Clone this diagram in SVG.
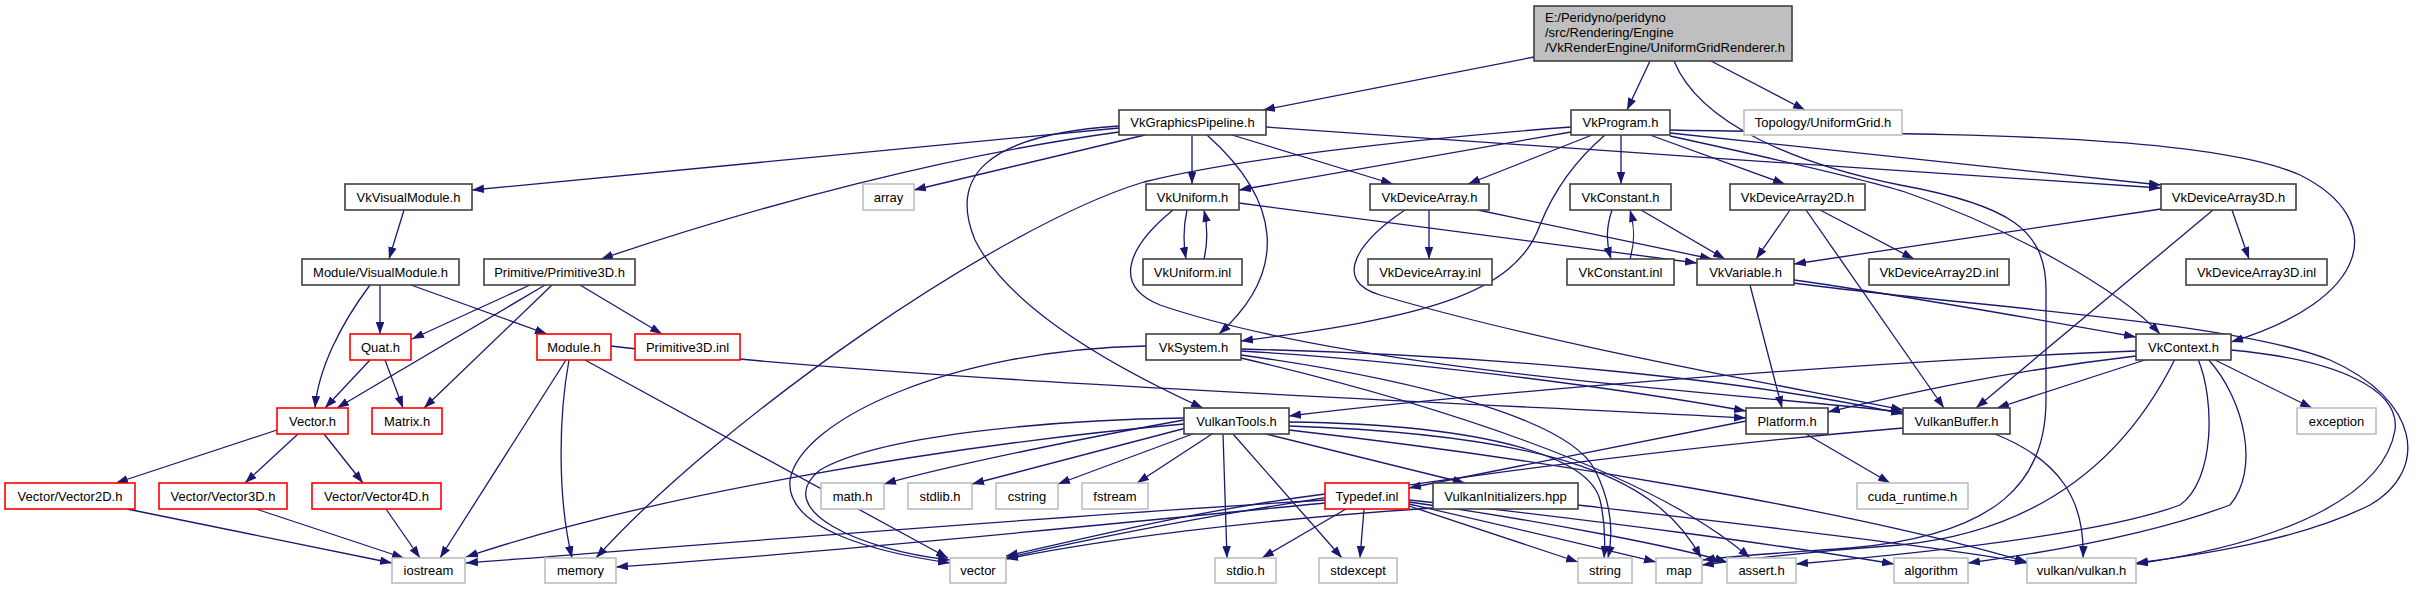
<svg xmlns="http://www.w3.org/2000/svg" width="2428" height="589" viewBox="0 0 2428 589">
<defs>
<marker id="ah" markerUnits="userSpaceOnUse" markerWidth="13" markerHeight="9" refX="12" refY="4.25" orient="auto"><path d="M0,0 L12,4.25 L0,8.5 z" fill="#191970"/></marker>
<style>
.n rect{fill:#fff;stroke:#404040;stroke-width:1.6}
.r rect{fill:#fff;stroke:#ff0000;stroke-width:1.6}
.g rect{fill:#fff;stroke:#bfbfbf;stroke-width:1.6}
.m rect{fill:#bfbfbf;stroke:#404040;stroke-width:1.6}
text{font-family:"Liberation Sans",Arial,sans-serif;font-size:13px;fill:#000;text-anchor:middle}
.m text{text-anchor:start}
#edges path{fill:none;stroke:#191970;stroke-width:1.3;marker-end:url(#ah)}
</style>
</defs>
<rect width="2428" height="589" fill="#fff"/>
<g id="edges">
<path d="M1534,57 L1263,110"/>
<path d="M1650,61 L1627,110"/>
<path d="M1711,61 L1805,110"/>
<path d="M1674,61 C1700,125 1800,165 1900,185 C2010,205 2046,230 2046,290 L2046,400 C2046,480 2000,535 1850,548 C1780,553 1730,556 1703,560"/>
<path d="M1119,128 L472,190"/>
<path d="M1119,132 C950,155 760,205 601,259"/>
<path d="M1145,135 L914,190"/>
<path d="M1119,126 C980,135 950,180 975,240 C1010,310 1120,370 1203,408"/>
<path d="M1192,135 L1192,184"/>
<path d="M1207,135 C1280,200 1290,270 1219,334"/>
<path d="M1232,135 L1393,184"/>
<path d="M1266,127 C1500,145 1900,170 2161,188"/>
<path d="M1571,132 L1239,190"/>
<path d="M1571,127 C1400,140 1230,160 1144,182 C1000,225 720,420 596,558"/>
<path d="M1592,135 L1468,184"/>
<path d="M1605,135 C1570,165 1550,200 1540,225 C1515,295 1420,318 1241,341"/>
<path d="M1621,135 L1621,184"/>
<path d="M1650,135 L1785,184"/>
<path d="M1670,133 L2161,185"/>
<path d="M1670,136 C1780,160 1860,178 1905,192 C2010,228 2120,290 2160,334"/>
<path d="M1670,130 C1900,135 2200,130 2300,175 C2390,220 2370,300 2231,342"/>
<path d="M1612,210 C1606,228 1606,242 1611,259"/>
<path d="M1630,259 C1635,242 1635,228 1630,210"/>
<path d="M1641,210 L1725,259"/>
<path d="M1790,210 L1756,259"/>
<path d="M1820,210 L1914,259"/>
<path d="M1806,210 L1944,408"/>
<path d="M2161,209 L1794,264"/>
<path d="M2232,210 L2249,259"/>
<path d="M2213,210 L1976,408"/>
<path d="M1187,210 C1183,228 1183,242 1186,259"/>
<path d="M1204,259 C1208,242 1208,228 1204,210"/>
<path d="M1239,203 L1697,263"/>
<path d="M1173,210 C1130,245 1110,285 1160,305 C1350,370 1700,390 1903,412"/>
<path d="M1429,210 L1429,259"/>
<path d="M1478,210 L1712,259"/>
<path d="M1405,210 C1360,240 1330,280 1380,295 C1550,345 1780,385 1903,410"/>
<path d="M1750,285 L1782,408"/>
<path d="M1794,280 C1900,295 2030,318 2136,337"/>
<path d="M1794,283 C1950,305 2230,320 2330,360 C2420,400 2430,470 2370,505 C2300,540 2200,555 2136,563"/>
<path d="M1146,346 C950,350 800,420 790,480 C785,530 880,553 950,563"/>
<path d="M1241,351 C1400,360 1600,385 1746,411"/>
<path d="M1241,349 C1500,355 1750,380 1903,414"/>
<path d="M1241,358 C1420,400 1650,470 1750,558"/>
<path d="M1241,355 C1420,380 1570,420 1595,470 C1615,510 1612,540 1608,558"/>
<path d="M1184,420 C1100,435 950,465 884,484"/>
<path d="M1190,427 L972,484"/>
<path d="M1198,432 L1058,484"/>
<path d="M1212,434 L1137,483"/>
<path d="M1184,424 C950,445 650,495 466,557"/>
<path d="M1184,418 C1050,420 880,435 820,470 C770,510 860,550 950,560"/>
<path d="M1223,434 L1227,558"/>
<path d="M1233,434 L1342,558"/>
<path d="M1266,434 L1465,483"/>
<path d="M1289,422 C1500,425 1590,460 1600,500 C1606,525 1605,545 1604,558"/>
<path d="M1289,426 C1560,435 1660,480 1701,558"/>
<path d="M1289,430 C1550,460 1850,510 2027,562"/>
<path d="M2136,351 C1900,360 1500,390 1289,416"/>
<path d="M2136,356 C2000,372 1900,395 1828,412"/>
<path d="M2148,359 L1997,408"/>
<path d="M2175,359 C2130,450 2050,530 1900,545 C1800,552 1740,560 1702,565"/>
<path d="M2198,359 C2215,400 2215,480 2180,505 C2100,535 1900,555 1796,564"/>
<path d="M2208,359 C2245,400 2260,470 2230,505 C2150,535 2050,552 1968,563"/>
<path d="M2213,359 L2312,408"/>
<path d="M2231,350 C2340,360 2400,390 2395,430 C2385,490 2300,540 2136,564"/>
<path d="M1746,421 L1409,488"/>
<path d="M1806,434 L1890,483"/>
<path d="M1903,428 C1700,445 1300,490 1006,558"/>
<path d="M1995,434 C2060,460 2085,500 2083,558"/>
<path d="M1325,494 C1200,510 1100,535 1006,556"/>
<path d="M1325,500 C1000,520 700,545 466,563"/>
<path d="M1325,503 C1100,525 820,553 616,567"/>
<path d="M1346,509 L1262,558"/>
<path d="M1364,509 L1360,558"/>
<path d="M1409,506 L1578,562"/>
<path d="M1409,504 C1500,525 1600,548 1656,562"/>
<path d="M1409,502 C1550,522 1680,548 1727,562"/>
<path d="M1409,500 C1600,520 1800,548 1894,564"/>
<path d="M1433,508 C1250,520 1100,540 1006,559"/>
<path d="M1578,505 C1750,525 1950,548 2027,563"/>
<path d="M380,285 L380,334"/>
<path d="M370,285 C340,325 318,370 315,408"/>
<path d="M411,285 L547,334"/>
<path d="M404,210 L389,259"/>
<path d="M530,285 L412,339"/>
<path d="M545,285 C470,330 400,370 337,408"/>
<path d="M552,285 L424,408"/>
<path d="M580,285 L662,334"/>
<path d="M370,360 L325,408"/>
<path d="M385,360 L403,408"/>
<path d="M566,360 L440,558"/>
<path d="M569,360 C558,420 558,500 572,558"/>
<path d="M585,360 L948,558"/>
<path d="M611,346 C900,380 1400,400 1746,418"/>
<path d="M277,430 L116,483"/>
<path d="M298,434 L245,483"/>
<path d="M324,434 L363,483"/>
<path d="M127,509 L392,563"/>
<path d="M256,509 L404,558"/>
<path d="M386,509 L420,558"/>
</g>
<g id="main" class="m"><rect x="1534" y="6" width="258" height="55"/><text x="1545" y="22">E:/Peridyno/peridyno</text><text x="1545" y="37">/src/Rendering/Engine</text><text x="1545" y="52">/VkRenderEngine/UniformGridRenderer.h</text></g>
<g id="VkGraphicsPipeline" class="n"><rect x="1119" y="110" width="147" height="25"/><text x="1192.5" y="127">VkGraphicsPipeline.h</text></g>
<g id="VkProgram" class="n"><rect x="1571" y="110" width="99" height="25"/><text x="1620.5" y="127">VkProgram.h</text></g>
<g id="UniformGrid" class="g"><rect x="1744" y="110" width="158" height="25"/><text x="1823" y="127">Topology/UniformGrid.h</text></g>
<g id="VkVisualModule" class="n"><rect x="345" y="184" width="127" height="26"/><text x="408.5" y="202">VkVisualModule.h</text></g>
<g id="array" class="g"><rect x="863" y="184" width="51" height="26"/><text x="888.5" y="202">array</text></g>
<g id="VkUniform" class="n"><rect x="1146" y="184" width="93" height="26"/><text x="1192.5" y="202">VkUniform.h</text></g>
<g id="VkDeviceArray" class="n"><rect x="1370" y="184" width="119" height="26"/><text x="1429.5" y="202">VkDeviceArray.h</text></g>
<g id="VkConstant" class="n"><rect x="1570" y="184" width="101" height="26"/><text x="1620.5" y="202">VkConstant.h</text></g>
<g id="VkDeviceArray2D" class="n"><rect x="1730" y="184" width="135" height="26"/><text x="1797.5" y="202">VkDeviceArray2D.h</text></g>
<g id="VkDeviceArray3D" class="n"><rect x="2161" y="184" width="135" height="26"/><text x="2228.5" y="202">VkDeviceArray3D.h</text></g>
<g id="VisualModule" class="n"><rect x="302" y="259" width="157" height="26"/><text x="380.5" y="277">Module/VisualModule.h</text></g>
<g id="Primitive3D" class="n"><rect x="484" y="259" width="151" height="26"/><text x="559.5" y="277">Primitive/Primitive3D.h</text></g>
<g id="VkUniformInl" class="n"><rect x="1143" y="259" width="99" height="26"/><text x="1192.5" y="277">VkUniform.inl</text></g>
<g id="VkDeviceArrayInl" class="n"><rect x="1368" y="259" width="124" height="26"/><text x="1430" y="277">VkDeviceArray.inl</text></g>
<g id="VkConstantInl" class="n"><rect x="1567" y="259" width="107" height="26"/><text x="1620.5" y="277">VkConstant.inl</text></g>
<g id="VkVariable" class="n"><rect x="1697" y="259" width="97" height="26"/><text x="1745.5" y="277">VkVariable.h</text></g>
<g id="VkDeviceArray2DInl" class="n"><rect x="1869" y="259" width="140" height="26"/><text x="1939" y="277">VkDeviceArray2D.inl</text></g>
<g id="VkDeviceArray3DInl" class="n"><rect x="2186" y="259" width="141" height="26"/><text x="2256.5" y="277">VkDeviceArray3D.inl</text></g>
<g id="Quat" class="r"><rect x="350" y="334" width="61" height="26"/><text x="380.5" y="352">Quat.h</text></g>
<g id="Module" class="r"><rect x="537" y="334" width="74" height="26"/><text x="574" y="352">Module.h</text></g>
<g id="Primitive3DInl" class="r"><rect x="635" y="334" width="105" height="26"/><text x="687.5" y="352">Primitive3D.inl</text></g>
<g id="VkSystem" class="n"><rect x="1146" y="334" width="95" height="26"/><text x="1193.5" y="352">VkSystem.h</text></g>
<g id="VkContext" class="n"><rect x="2136" y="334" width="95" height="26"/><text x="2183.5" y="352">VkContext.h</text></g>
<g id="Vector" class="r"><rect x="277" y="408" width="71" height="26"/><text x="312.5" y="426">Vector.h</text></g>
<g id="Matrix" class="r"><rect x="372" y="408" width="70" height="26"/><text x="407" y="426">Matrix.h</text></g>
<g id="VulkanTools" class="n"><rect x="1184" y="408" width="105" height="26"/><text x="1236.5" y="426">VulkanTools.h</text></g>
<g id="Platform" class="n"><rect x="1746" y="408" width="82" height="26"/><text x="1787" y="426">Platform.h</text></g>
<g id="VulkanBuffer" class="n"><rect x="1903" y="408" width="107" height="26"/><text x="1956.5" y="426">VulkanBuffer.h</text></g>
<g id="exception" class="g"><rect x="2297" y="408" width="79" height="26"/><text x="2336.5" y="426">exception</text></g>
<g id="Vector2D" class="r"><rect x="5" y="483" width="130" height="26"/><text x="70" y="501">Vector/Vector2D.h</text></g>
<g id="Vector3D" class="r"><rect x="159" y="483" width="128" height="26"/><text x="223" y="501">Vector/Vector3D.h</text></g>
<g id="Vector4D" class="r"><rect x="312" y="483" width="129" height="26"/><text x="376.5" y="501">Vector/Vector4D.h</text></g>
<g id="math" class="g"><rect x="821" y="483" width="63" height="26"/><text x="852.5" y="501">math.h</text></g>
<g id="stdlib" class="g"><rect x="908" y="483" width="64" height="26"/><text x="940" y="501">stdlib.h</text></g>
<g id="cstring" class="g"><rect x="996" y="483" width="62" height="26"/><text x="1027" y="501">cstring</text></g>
<g id="fstream" class="g"><rect x="1082" y="483" width="66" height="26"/><text x="1115" y="501">fstream</text></g>
<g id="Typedef" class="r"><rect x="1325" y="483" width="84" height="26"/><text x="1367" y="501">Typedef.inl</text></g>
<g id="VulkanInitializers" class="n"><rect x="1433" y="483" width="145" height="26"/><text x="1505.5" y="501">VulkanInitializers.hpp</text></g>
<g id="cuda_runtime" class="g"><rect x="1857" y="483" width="111" height="26"/><text x="1912.5" y="501">cuda_runtime.h</text></g>
<g id="iostream" class="g"><rect x="392" y="558" width="73" height="25"/><text x="428.5" y="575">iostream</text></g>
<g id="memory" class="g"><rect x="545" y="558" width="71" height="25"/><text x="580.5" y="575">memory</text></g>
<g id="vector" class="g"><rect x="950" y="558" width="56" height="25"/><text x="978" y="575">vector</text></g>
<g id="stdio" class="g"><rect x="1215" y="558" width="61" height="25"/><text x="1245.5" y="575">stdio.h</text></g>
<g id="stdexcept" class="g"><rect x="1319" y="558" width="78" height="25"/><text x="1358" y="575">stdexcept</text></g>
<g id="string" class="g"><rect x="1578" y="558" width="54" height="25"/><text x="1605" y="575">string</text></g>
<g id="map" class="g"><rect x="1656" y="558" width="46" height="25"/><text x="1679" y="575">map</text></g>
<g id="assert" class="g"><rect x="1727" y="558" width="69" height="25"/><text x="1761.5" y="575">assert.h</text></g>
<g id="algorithm" class="g"><rect x="1894" y="558" width="74" height="25"/><text x="1931" y="575">algorithm</text></g>
<g id="vulkan" class="g"><rect x="2027" y="558" width="109" height="25"/><text x="2081.5" y="575">vulkan/vulkan.h</text></g>
</svg>
